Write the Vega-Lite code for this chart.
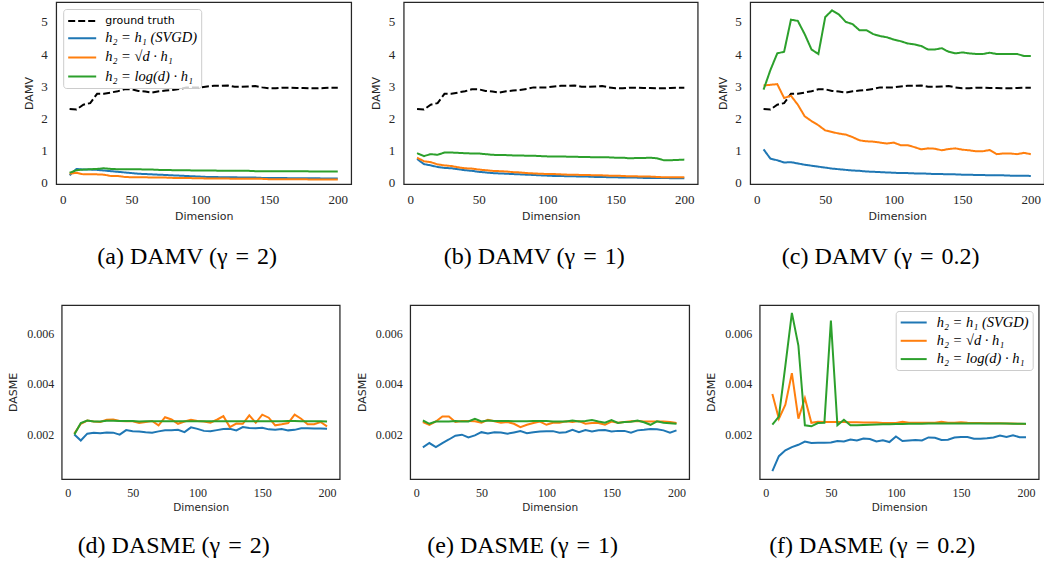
{
"$schema": "https://vega.github.io/schema/vega-lite/v6.json",
"background": "white",
"padding": {"left": 7, "top": 1, "right": 0, "bottom": 0},
"datasets": {
"top": [
{"p":"a","d":5,"gt":2.29,"h1":0.22,"sq":0.27,"lg":0.3},
{"p":"a","d":10,"gt":2.27,"h1":0.42,"sq":0.3,"lg":0.38},
{"p":"a","d":15,"gt":2.42,"h1":0.4,"sq":0.25,"lg":0.4},
{"p":"a","d":20,"gt":2.47,"h1":0.4,"sq":0.25,"lg":0.41},
{"p":"a","d":25,"gt":2.76,"h1":0.39,"sq":0.25,"lg":0.42},
{"p":"a","d":30,"gt":2.76,"h1":0.37,"sq":0.24,"lg":0.44},
{"p":"a","d":35,"gt":2.8,"h1":0.35,"sq":0.2,"lg":0.42},
{"p":"a","d":40,"gt":2.84,"h1":0.33,"sq":0.2,"lg":0.41},
{"p":"a","d":45,"gt":2.9,"h1":0.31,"sq":0.17,"lg":0.41},
{"p":"a","d":50,"gt":2.9,"h1":0.29,"sq":0.16,"lg":0.41},
{"p":"a","d":55,"gt":2.85,"h1":0.27,"sq":0.16,"lg":0.41},
{"p":"a","d":60,"gt":2.83,"h1":0.26,"sq":0.16,"lg":0.4},
{"p":"a","d":65,"gt":2.8,"h1":0.25,"sq":0.15,"lg":0.4},
{"p":"a","d":70,"gt":2.84,"h1":0.24,"sq":0.15,"lg":0.39},
{"p":"a","d":75,"gt":2.86,"h1":0.23,"sq":0.15,"lg":0.39},
{"p":"a","d":80,"gt":2.88,"h1":0.22,"sq":0.14,"lg":0.38},
{"p":"a","d":85,"gt":2.91,"h1":0.21,"sq":0.14,"lg":0.38},
{"p":"a","d":90,"gt":2.96,"h1":0.2,"sq":0.14,"lg":0.38},
{"p":"a","d":95,"gt":2.96,"h1":0.19,"sq":0.13,"lg":0.37},
{"p":"a","d":100,"gt":2.96,"h1":0.18,"sq":0.13,"lg":0.37},
{"p":"a","d":105,"gt":2.99,"h1":0.17,"sq":0.12,"lg":0.37},
{"p":"a","d":110,"gt":3.01,"h1":0.17,"sq":0.12,"lg":0.37},
{"p":"a","d":115,"gt":3.01,"h1":0.16,"sq":0.12,"lg":0.36},
{"p":"a","d":120,"gt":3.02,"h1":0.16,"sq":0.12,"lg":0.36},
{"p":"a","d":125,"gt":2.98,"h1":0.16,"sq":0.11,"lg":0.36},
{"p":"a","d":130,"gt":2.98,"h1":0.15,"sq":0.11,"lg":0.36},
{"p":"a","d":135,"gt":2.99,"h1":0.15,"sq":0.11,"lg":0.36},
{"p":"a","d":140,"gt":3.0,"h1":0.15,"sq":0.11,"lg":0.35},
{"p":"a","d":145,"gt":2.96,"h1":0.14,"sq":0.11,"lg":0.35},
{"p":"a","d":150,"gt":2.93,"h1":0.14,"sq":0.1,"lg":0.35},
{"p":"a","d":155,"gt":2.93,"h1":0.14,"sq":0.1,"lg":0.35},
{"p":"a","d":160,"gt":2.95,"h1":0.14,"sq":0.1,"lg":0.35},
{"p":"a","d":165,"gt":2.95,"h1":0.13,"sq":0.1,"lg":0.35},
{"p":"a","d":170,"gt":2.94,"h1":0.13,"sq":0.1,"lg":0.35},
{"p":"a","d":175,"gt":2.94,"h1":0.13,"sq":0.1,"lg":0.35},
{"p":"a","d":180,"gt":2.93,"h1":0.13,"sq":0.09,"lg":0.34},
{"p":"a","d":185,"gt":2.93,"h1":0.13,"sq":0.09,"lg":0.34},
{"p":"a","d":190,"gt":2.94,"h1":0.12,"sq":0.09,"lg":0.34},
{"p":"a","d":195,"gt":2.95,"h1":0.12,"sq":0.09,"lg":0.34},
{"p":"a","d":200,"gt":2.95,"h1":0.12,"sq":0.09,"lg":0.34},
{"p":"b","d":5,"gt":2.29,"h1":0.73,"sq":0.77,"lg":0.91},
{"p":"b","d":10,"gt":2.27,"h1":0.57,"sq":0.66,"lg":0.82},
{"p":"b","d":15,"gt":2.42,"h1":0.53,"sq":0.63,"lg":0.88},
{"p":"b","d":20,"gt":2.47,"h1":0.48,"sq":0.56,"lg":0.86},
{"p":"b","d":25,"gt":2.76,"h1":0.45,"sq":0.53,"lg":0.93},
{"p":"b","d":30,"gt":2.76,"h1":0.44,"sq":0.51,"lg":0.93},
{"p":"b","d":35,"gt":2.8,"h1":0.41,"sq":0.47,"lg":0.92},
{"p":"b","d":40,"gt":2.84,"h1":0.38,"sq":0.44,"lg":0.91},
{"p":"b","d":45,"gt":2.9,"h1":0.36,"sq":0.43,"lg":0.9},
{"p":"b","d":50,"gt":2.9,"h1":0.33,"sq":0.4,"lg":0.9},
{"p":"b","d":55,"gt":2.85,"h1":0.31,"sq":0.38,"lg":0.88},
{"p":"b","d":60,"gt":2.83,"h1":0.29,"sq":0.36,"lg":0.86},
{"p":"b","d":65,"gt":2.8,"h1":0.28,"sq":0.35,"lg":0.85},
{"p":"b","d":70,"gt":2.84,"h1":0.27,"sq":0.34,"lg":0.85},
{"p":"b","d":75,"gt":2.86,"h1":0.26,"sq":0.32,"lg":0.84},
{"p":"b","d":80,"gt":2.88,"h1":0.25,"sq":0.31,"lg":0.84},
{"p":"b","d":85,"gt":2.91,"h1":0.24,"sq":0.29,"lg":0.83},
{"p":"b","d":90,"gt":2.96,"h1":0.23,"sq":0.28,"lg":0.83},
{"p":"b","d":95,"gt":2.96,"h1":0.22,"sq":0.27,"lg":0.82},
{"p":"b","d":100,"gt":2.96,"h1":0.21,"sq":0.26,"lg":0.81},
{"p":"b","d":105,"gt":2.99,"h1":0.2,"sq":0.26,"lg":0.81},
{"p":"b","d":110,"gt":3.01,"h1":0.2,"sq":0.25,"lg":0.81},
{"p":"b","d":115,"gt":3.01,"h1":0.19,"sq":0.24,"lg":0.8},
{"p":"b","d":120,"gt":3.02,"h1":0.19,"sq":0.24,"lg":0.8},
{"p":"b","d":125,"gt":2.98,"h1":0.18,"sq":0.23,"lg":0.79},
{"p":"b","d":130,"gt":2.98,"h1":0.18,"sq":0.23,"lg":0.79},
{"p":"b","d":135,"gt":2.99,"h1":0.17,"sq":0.22,"lg":0.78},
{"p":"b","d":140,"gt":3.0,"h1":0.17,"sq":0.22,"lg":0.78},
{"p":"b","d":145,"gt":2.96,"h1":0.16,"sq":0.21,"lg":0.78},
{"p":"b","d":150,"gt":2.93,"h1":0.16,"sq":0.21,"lg":0.77},
{"p":"b","d":155,"gt":2.93,"h1":0.15,"sq":0.2,"lg":0.77},
{"p":"b","d":160,"gt":2.95,"h1":0.15,"sq":0.19,"lg":0.75},
{"p":"b","d":165,"gt":2.95,"h1":0.15,"sq":0.19,"lg":0.76},
{"p":"b","d":170,"gt":2.94,"h1":0.14,"sq":0.18,"lg":0.76},
{"p":"b","d":175,"gt":2.94,"h1":0.14,"sq":0.18,"lg":0.77},
{"p":"b","d":180,"gt":2.93,"h1":0.14,"sq":0.17,"lg":0.75},
{"p":"b","d":185,"gt":2.93,"h1":0.14,"sq":0.16,"lg":0.69},
{"p":"b","d":190,"gt":2.94,"h1":0.13,"sq":0.16,"lg":0.69},
{"p":"b","d":195,"gt":2.95,"h1":0.13,"sq":0.16,"lg":0.7},
{"p":"b","d":200,"gt":2.95,"h1":0.13,"sq":0.16,"lg":0.71},
{"p":"c","d":5,"gt":2.29,"h1":1.03,"sq":3.02,"lg":2.89},
{"p":"c","d":10,"gt":2.27,"h1":0.74,"sq":3.04,"lg":3.5},
{"p":"c","d":15,"gt":2.42,"h1":0.69,"sq":3.06,"lg":4.02},
{"p":"c","d":20,"gt":2.47,"h1":0.62,"sq":2.63,"lg":4.07},
{"p":"c","d":25,"gt":2.76,"h1":0.63,"sq":2.7,"lg":5.07},
{"p":"c","d":30,"gt":2.76,"h1":0.59,"sq":2.42,"lg":5.03},
{"p":"c","d":35,"gt":2.8,"h1":0.55,"sq":2.06,"lg":4.62},
{"p":"c","d":40,"gt":2.84,"h1":0.52,"sq":1.91,"lg":4.14},
{"p":"c","d":45,"gt":2.9,"h1":0.49,"sq":1.78,"lg":4.0},
{"p":"c","d":50,"gt":2.9,"h1":0.46,"sq":1.62,"lg":5.15},
{"p":"c","d":55,"gt":2.85,"h1":0.43,"sq":1.57,"lg":5.36},
{"p":"c","d":60,"gt":2.83,"h1":0.41,"sq":1.52,"lg":5.23},
{"p":"c","d":65,"gt":2.8,"h1":0.39,"sq":1.49,"lg":5.0},
{"p":"c","d":70,"gt":2.84,"h1":0.37,"sq":1.41,"lg":4.93},
{"p":"c","d":75,"gt":2.86,"h1":0.36,"sq":1.31,"lg":4.74},
{"p":"c","d":80,"gt":2.88,"h1":0.34,"sq":1.28,"lg":4.74},
{"p":"c","d":85,"gt":2.91,"h1":0.33,"sq":1.27,"lg":4.62},
{"p":"c","d":90,"gt":2.96,"h1":0.32,"sq":1.24,"lg":4.56},
{"p":"c","d":95,"gt":2.96,"h1":0.31,"sq":1.21,"lg":4.52},
{"p":"c","d":100,"gt":2.96,"h1":0.3,"sq":1.24,"lg":4.45},
{"p":"c","d":105,"gt":2.99,"h1":0.29,"sq":1.16,"lg":4.4},
{"p":"c","d":110,"gt":3.01,"h1":0.29,"sq":1.16,"lg":4.33},
{"p":"c","d":115,"gt":3.01,"h1":0.28,"sq":1.1,"lg":4.3},
{"p":"c","d":120,"gt":3.02,"h1":0.28,"sq":1.03,"lg":4.25},
{"p":"c","d":125,"gt":2.98,"h1":0.27,"sq":1.06,"lg":4.14},
{"p":"c","d":130,"gt":2.98,"h1":0.26,"sq":1.05,"lg":4.14},
{"p":"c","d":135,"gt":2.99,"h1":0.26,"sq":1.0,"lg":4.18},
{"p":"c","d":140,"gt":3.0,"h1":0.25,"sq":1.04,"lg":4.07},
{"p":"c","d":145,"gt":2.96,"h1":0.25,"sq":1.06,"lg":4.02},
{"p":"c","d":150,"gt":2.93,"h1":0.24,"sq":1.02,"lg":4.05},
{"p":"c","d":155,"gt":2.93,"h1":0.24,"sq":1.0,"lg":4.02},
{"p":"c","d":160,"gt":2.95,"h1":0.23,"sq":0.97,"lg":4.0},
{"p":"c","d":165,"gt":2.95,"h1":0.23,"sq":0.97,"lg":4.0},
{"p":"c","d":170,"gt":2.94,"h1":0.22,"sq":1.01,"lg":4.04},
{"p":"c","d":175,"gt":2.94,"h1":0.22,"sq":0.88,"lg":4.0},
{"p":"c","d":180,"gt":2.93,"h1":0.22,"sq":0.9,"lg":4.0},
{"p":"c","d":185,"gt":2.93,"h1":0.21,"sq":0.9,"lg":4.0},
{"p":"c","d":190,"gt":2.94,"h1":0.21,"sq":0.88,"lg":4.0},
{"p":"c","d":195,"gt":2.95,"h1":0.21,"sq":0.92,"lg":3.94},
{"p":"c","d":200,"gt":2.95,"h1":0.2,"sq":0.88,"lg":3.94}
],
"bot": [
{"p":"d","d":5,"h1":0.002,"sq":0.00203,"lg":0.002},
{"p":"d","d":10,"h1":0.00176,"sq":0.00242,"lg":0.00245},
{"p":"d","d":15,"h1":0.00203,"sq":0.00255,"lg":0.00255},
{"p":"d","d":20,"h1":0.00207,"sq":0.00251,"lg":0.00251},
{"p":"d","d":25,"h1":0.00205,"sq":0.00249,"lg":0.00251},
{"p":"d","d":30,"h1":0.00208,"sq":0.00258,"lg":0.00254},
{"p":"d","d":35,"h1":0.00207,"sq":0.00259,"lg":0.00254},
{"p":"d","d":40,"h1":0.00199,"sq":0.00253,"lg":0.00253},
{"p":"d","d":45,"h1":0.00217,"sq":0.00252,"lg":0.00253},
{"p":"d","d":50,"h1":0.00213,"sq":0.00252,"lg":0.00253},
{"p":"d","d":55,"h1":0.00212,"sq":0.00245,"lg":0.00251},
{"p":"d","d":60,"h1":0.00209,"sq":0.00249,"lg":0.00252},
{"p":"d","d":65,"h1":0.00207,"sq":0.00253,"lg":0.00252},
{"p":"d","d":70,"h1":0.00212,"sq":0.00236,"lg":0.00252},
{"p":"d","d":75,"h1":0.00216,"sq":0.00268,"lg":0.00252},
{"p":"d","d":80,"h1":0.00216,"sq":0.00259,"lg":0.00252},
{"p":"d","d":85,"h1":0.00218,"sq":0.00242,"lg":0.00252},
{"p":"d","d":90,"h1":0.00209,"sq":0.00251,"lg":0.00252},
{"p":"d","d":95,"h1":0.00228,"sq":0.00258,"lg":0.00252},
{"p":"d","d":100,"h1":0.00222,"sq":0.00253,"lg":0.00252},
{"p":"d","d":105,"h1":0.00214,"sq":0.00251,"lg":0.00252},
{"p":"d","d":110,"h1":0.00213,"sq":0.00246,"lg":0.00252},
{"p":"d","d":115,"h1":0.00217,"sq":0.00258,"lg":0.00252},
{"p":"d","d":120,"h1":0.00221,"sq":0.00272,"lg":0.00252},
{"p":"d","d":125,"h1":0.00222,"sq":0.00229,"lg":0.00252},
{"p":"d","d":130,"h1":0.00216,"sq":0.00243,"lg":0.00252},
{"p":"d","d":135,"h1":0.00229,"sq":0.00242,"lg":0.00252},
{"p":"d","d":140,"h1":0.00225,"sq":0.00275,"lg":0.00252},
{"p":"d","d":145,"h1":0.00224,"sq":0.00246,"lg":0.00252},
{"p":"d","d":150,"h1":0.00226,"sq":0.00278,"lg":0.00252},
{"p":"d","d":155,"h1":0.0022,"sq":0.00266,"lg":0.00252},
{"p":"d","d":160,"h1":0.00218,"sq":0.00236,"lg":0.00252},
{"p":"d","d":165,"h1":0.00221,"sq":0.0024,"lg":0.00252},
{"p":"d","d":170,"h1":0.00216,"sq":0.00245,"lg":0.00253},
{"p":"d","d":175,"h1":0.00218,"sq":0.00278,"lg":0.00253},
{"p":"d","d":180,"h1":0.00224,"sq":0.00262,"lg":0.00252},
{"p":"d","d":185,"h1":0.00224,"sq":0.0024,"lg":0.00252},
{"p":"d","d":190,"h1":0.00223,"sq":0.0024,"lg":0.00252},
{"p":"d","d":195,"h1":0.00223,"sq":0.00249,"lg":0.00252},
{"p":"d","d":200,"h1":0.00222,"sq":0.00232,"lg":0.00251},
{"p":"e","d":5,"h1":0.00149,"sq":0.00249,"lg":0.00255},
{"p":"e","d":10,"h1":0.00166,"sq":0.00238,"lg":0.00242},
{"p":"e","d":15,"h1":0.0015,"sq":0.00251,"lg":0.00251},
{"p":"e","d":20,"h1":0.00166,"sq":0.00271,"lg":0.00251},
{"p":"e","d":25,"h1":0.0018,"sq":0.00271,"lg":0.00251},
{"p":"e","d":30,"h1":0.00195,"sq":0.00249,"lg":0.00253},
{"p":"e","d":35,"h1":0.00199,"sq":0.00253,"lg":0.00251},
{"p":"e","d":40,"h1":0.00188,"sq":0.00253,"lg":0.00251},
{"p":"e","d":45,"h1":0.00196,"sq":0.00252,"lg":0.00262},
{"p":"e","d":50,"h1":0.00209,"sq":0.00246,"lg":0.00251},
{"p":"e","d":55,"h1":0.00204,"sq":0.00258,"lg":0.00255},
{"p":"e","d":60,"h1":0.00209,"sq":0.00252,"lg":0.00253},
{"p":"e","d":65,"h1":0.00208,"sq":0.00246,"lg":0.00253},
{"p":"e","d":70,"h1":0.00203,"sq":0.00249,"lg":0.00253},
{"p":"e","d":75,"h1":0.00208,"sq":0.00242,"lg":0.00252},
{"p":"e","d":80,"h1":0.00213,"sq":0.00229,"lg":0.00252},
{"p":"e","d":85,"h1":0.00205,"sq":0.00238,"lg":0.00252},
{"p":"e","d":90,"h1":0.00209,"sq":0.00245,"lg":0.00253},
{"p":"e","d":95,"h1":0.00212,"sq":0.00251,"lg":0.00253},
{"p":"e","d":100,"h1":0.00213,"sq":0.00238,"lg":0.00253},
{"p":"e","d":105,"h1":0.00213,"sq":0.00246,"lg":0.00251},
{"p":"e","d":110,"h1":0.00207,"sq":0.00246,"lg":0.00251},
{"p":"e","d":115,"h1":0.00209,"sq":0.00252,"lg":0.00251},
{"p":"e","d":120,"h1":0.00218,"sq":0.00249,"lg":0.00255},
{"p":"e","d":125,"h1":0.00209,"sq":0.00253,"lg":0.00251},
{"p":"e","d":130,"h1":0.00217,"sq":0.00242,"lg":0.00253},
{"p":"e","d":135,"h1":0.00212,"sq":0.00245,"lg":0.00257},
{"p":"e","d":140,"h1":0.00216,"sq":0.00245,"lg":0.00251},
{"p":"e","d":145,"h1":0.00217,"sq":0.00238,"lg":0.00246},
{"p":"e","d":150,"h1":0.00212,"sq":0.00251,"lg":0.00257},
{"p":"e","d":155,"h1":0.00214,"sq":0.00246,"lg":0.00245},
{"p":"e","d":160,"h1":0.00214,"sq":0.00249,"lg":0.00249},
{"p":"e","d":165,"h1":0.00207,"sq":0.00252,"lg":0.0025},
{"p":"e","d":170,"h1":0.00216,"sq":0.00253,"lg":0.00255},
{"p":"e","d":175,"h1":0.00218,"sq":0.00251,"lg":0.00248},
{"p":"e","d":180,"h1":0.00221,"sq":0.00251,"lg":0.00238},
{"p":"e","d":185,"h1":0.0022,"sq":0.00251,"lg":0.00252},
{"p":"e","d":190,"h1":0.00216,"sq":0.00251,"lg":0.00246},
{"p":"e","d":195,"h1":0.00207,"sq":0.00249,"lg":0.00244},
{"p":"e","d":200,"h1":0.00216,"sq":0.00245,"lg":0.00242},
{"p":"f","d":5,"h1":0.00055,"sq":0.0036,"lg":0.00239},
{"p":"f","d":10,"h1":0.00114,"sq":0.00262,"lg":0.0027},
{"p":"f","d":15,"h1":0.00137,"sq":0.00317,"lg":0.00472},
{"p":"f","d":20,"h1":0.0015,"sq":0.00442,"lg":0.0068},
{"p":"f","d":25,"h1":0.00159,"sq":0.00262,"lg":0.00551},
{"p":"f","d":30,"h1":0.00172,"sq":0.00343,"lg":0.00236},
{"p":"f","d":35,"h1":0.00166,"sq":0.00246,"lg":0.00232},
{"p":"f","d":40,"h1":0.00167,"sq":0.0025,"lg":0.00245},
{"p":"f","d":45,"h1":0.00167,"sq":0.00249,"lg":0.00246},
{"p":"f","d":50,"h1":0.00168,"sq":0.00249,"lg":0.0065},
{"p":"f","d":55,"h1":0.00174,"sq":0.00249,"lg":0.00236},
{"p":"f","d":60,"h1":0.00172,"sq":0.00249,"lg":0.00258},
{"p":"f","d":65,"h1":0.0018,"sq":0.00248,"lg":0.00236},
{"p":"f","d":70,"h1":0.00176,"sq":0.00248,"lg":0.00236},
{"p":"f","d":75,"h1":0.00184,"sq":0.00247,"lg":0.00237},
{"p":"f","d":80,"h1":0.00182,"sq":0.00247,"lg":0.00238},
{"p":"f","d":85,"h1":0.00172,"sq":0.00247,"lg":0.00239},
{"p":"f","d":90,"h1":0.00177,"sq":0.00245,"lg":0.0024},
{"p":"f","d":95,"h1":0.0017,"sq":0.00245,"lg":0.0024},
{"p":"f","d":100,"h1":0.00192,"sq":0.00245,"lg":0.00241},
{"p":"f","d":105,"h1":0.00174,"sq":0.0025,"lg":0.00241},
{"p":"f","d":110,"h1":0.00176,"sq":0.00246,"lg":0.00242},
{"p":"f","d":115,"h1":0.00178,"sq":0.00246,"lg":0.00242},
{"p":"f","d":120,"h1":0.00176,"sq":0.00246,"lg":0.00242},
{"p":"f","d":125,"h1":0.00188,"sq":0.00246,"lg":0.00243},
{"p":"f","d":130,"h1":0.00187,"sq":0.00246,"lg":0.00243},
{"p":"f","d":135,"h1":0.00178,"sq":0.0025,"lg":0.00243},
{"p":"f","d":140,"h1":0.00179,"sq":0.00246,"lg":0.00243},
{"p":"f","d":145,"h1":0.00188,"sq":0.00246,"lg":0.00243},
{"p":"f","d":150,"h1":0.0019,"sq":0.00248,"lg":0.00243},
{"p":"f","d":155,"h1":0.0019,"sq":0.00246,"lg":0.00243},
{"p":"f","d":160,"h1":0.00183,"sq":0.00245,"lg":0.00243},
{"p":"f","d":165,"h1":0.00183,"sq":0.00245,"lg":0.00243},
{"p":"f","d":170,"h1":0.00185,"sq":0.00244,"lg":0.00243},
{"p":"f","d":175,"h1":0.00188,"sq":0.00244,"lg":0.00243},
{"p":"f","d":180,"h1":0.00196,"sq":0.00244,"lg":0.00243},
{"p":"f","d":185,"h1":0.0019,"sq":0.00243,"lg":0.00243},
{"p":"f","d":190,"h1":0.00197,"sq":0.00243,"lg":0.00242},
{"p":"f","d":195,"h1":0.00189,"sq":0.00242,"lg":0.00242},
{"p":"f","d":200,"h1":0.00189,"sq":0.00241,"lg":0.00242}
]
},
"vconcat": [
{
"hconcat": [
{
"width": 295, "height": 182,
"data": {"name": "top"},
"transform": [{"filter": "datum.p == 'a'"}, {"fold": ["gt", "h1", "sq", "lg"], "as": ["m", "v"]}],
"mark": {"type": "line", "strokeWidth": 2, "clip": true},
"encoding": {
"x": {"field": "d", "type": "quantitative", "scale": {"domain": [-4.75, 209.75], "nice": false, "zero": false}, "axis": {"values": [0, 50, 100, 150, 200], "title": "Dimension"}},
"y": {"field": "v", "type": "quantitative", "scale": {"domain": [-0.05, 5.62], "nice": false, "zero": false}, "axis": {"values": [0, 1, 2, 3, 4, 5], "title": "DAMV", "minExtent": 17, "maxExtent": 17, "titlePadding": 5}},
"color": {"field": "m", "type": "nominal", "scale": {"domain": ["gt", "h1", "sq", "lg"], "range": ["#000000", "#1f77b4", "#ff7f0e", "#2ca02c"]},
"legend": {"title": null, "orient": "top-left", "offset": 7, "padding": 4, "fillColor": "rgba(255,255,255,0.8)", "strokeColor": "#cccccc", "cornerRadius": 3, "symbolType": "M-1,0H3", "symbolSize": 196, "symbolStrokeWidth": 2, "labelOffset": 22, "rowPadding": 4.2, "labelFontSize": 14.5,
"labelExpr": "datum.label == 'gt' ? 'ground truth' : datum.label == 'h1' ? 'h₂ = h₁ (SVGD)' : datum.label == 'sq' ? 'h₂ = √d · h₁' : 'h₂ = log(d) · h₁'",
"encode": {"labels": {"update": {"font": {"signal": "datum.value == 'gt' ? 'DejaVu Sans' : 'Liberation Serif'"}, "fontStyle": {"signal": "datum.value == 'gt' ? 'normal' : 'italic'"}, "fontSize": {"signal": "datum.value == 'gt' ? 11 : 14.5"}}}}}},
"strokeDash": {"field": "m", "type": "nominal", "scale": {"domain": ["gt", "h1", "sq", "lg"], "range": [[7, 3], [1, 0], [1, 0], [1, 0]]},
"legend": {"title": null, "orient": "top-left", "offset": 7, "padding": 4, "fillColor": "rgba(255,255,255,0.8)", "strokeColor": "#cccccc", "cornerRadius": 3, "symbolType": "M-1,0H3", "symbolSize": 196, "symbolStrokeWidth": 2, "labelOffset": 22, "rowPadding": 4.2, "labelFontSize": 14.5,
"labelExpr": "datum.label == 'gt' ? 'ground truth' : datum.label == 'h1' ? 'h₂ = h₁ (SVGD)' : datum.label == 'sq' ? 'h₂ = √d · h₁' : 'h₂ = log(d) · h₁'",
"encode": {"labels": {"update": {"font": {"signal": "datum.value == 'gt' ? 'DejaVu Sans' : 'Liberation Serif'"}, "fontStyle": {"signal": "datum.value == 'gt' ? 'normal' : 'italic'"}, "fontSize": {"signal": "datum.value == 'gt' ? 11 : 14.5"}}}}}}
},
"title": {"text": "(a) DAMV (γ\u2004=\u20042)", "offset": 24}
},
{
"width": 294, "height": 182,
"data": {"name": "top"},
"transform": [{"filter": "datum.p == 'b'"}, {"fold": ["gt", "h1", "sq", "lg"], "as": ["m", "v"]}],
"mark": {"type": "line", "strokeWidth": 2, "clip": true},
"encoding": {
"x": {"field": "d", "type": "quantitative", "scale": {"domain": [-4.75, 209.75], "nice": false, "zero": false}, "axis": {"values": [0, 50, 100, 150, 200], "title": "Dimension"}},
"y": {"field": "v", "type": "quantitative", "scale": {"domain": [-0.05, 5.62], "nice": false, "zero": false}, "axis": {"values": [0, 1, 2, 3, 4, 5], "title": "DAMV", "minExtent": 17, "maxExtent": 17, "titlePadding": 5}},
"color": {"field": "m", "type": "nominal", "scale": {"domain": ["gt", "h1", "sq", "lg"], "range": ["#000000", "#1f77b4", "#ff7f0e", "#2ca02c"]}, "legend": null},
"strokeDash": {"field": "m", "type": "nominal", "scale": {"domain": ["gt", "h1", "sq", "lg"], "range": [[7, 3], [1, 0], [1, 0], [1, 0]]}, "legend": null}
},
"title": {"text": "(b) DAMV (γ\u2004=\u20041)", "offset": 24}
},
{
"width": 294, "height": 182,
"data": {"name": "top"},
"transform": [{"filter": "datum.p == 'c'"}, {"fold": ["gt", "h1", "sq", "lg"], "as": ["m", "v"]}],
"mark": {"type": "line", "strokeWidth": 2, "clip": true},
"encoding": {
"x": {"field": "d", "type": "quantitative", "scale": {"domain": [-4.75, 209.75], "nice": false, "zero": false}, "axis": {"values": [0, 50, 100, 150, 200], "title": "Dimension"}},
"y": {"field": "v", "type": "quantitative", "scale": {"domain": [-0.05, 5.62], "nice": false, "zero": false}, "axis": {"values": [0, 1, 2, 3, 4, 5], "title": "DAMV", "minExtent": 17, "maxExtent": 17, "titlePadding": 5}},
"color": {"field": "m", "type": "nominal", "scale": {"domain": ["gt", "h1", "sq", "lg"], "range": ["#000000", "#1f77b4", "#ff7f0e", "#2ca02c"]}, "legend": null},
"strokeDash": {"field": "m", "type": "nominal", "scale": {"domain": ["gt", "h1", "sq", "lg"], "range": [[7, 3], [1, 0], [1, 0], [1, 0]]}, "legend": null}
},
"title": {"text": "(c) DAMV (γ\u2004=\u20040.2)", "offset": 24}
}
],
"spacing": 17.5,
"resolve": {"scale": {"x": "independent", "y": "independent", "color": "independent", "strokeDash": "independent"}}
},
{
"hconcat": [
{
"width": 278, "height": 174,
"data": {"name": "bot"},
"transform": [{"filter": "datum.p == 'd'"}, {"fold": ["h1", "sq", "lg"], "as": ["m", "v"]}],
"mark": {"type": "line", "strokeWidth": 2, "clip": true},
"encoding": {
"x": {"field": "d", "type": "quantitative", "scale": {"domain": [-4.75, 209.75], "nice": false, "zero": false}, "axis": {"values": [0, 50, 100, 150, 200], "title": "Dimension", "labelFontSize": 12, "labelPadding": 8, "titleFontSize": 10.5}},
"y": {"field": "v", "type": "quantitative", "scale": {"domain": [0.00024, 0.00711], "nice": false, "zero": false}, "axis": {"values": [0.002, 0.004, 0.006], "format": ".3f", "title": "DASME", "labelFontSize": 12, "labelPadding": 8, "minExtent": 37, "maxExtent": 37, "titlePadding": 6}},
"color": {"field": "m", "type": "nominal", "scale": {"domain": ["h1", "sq", "lg"], "range": ["#1f77b4", "#ff7f0e", "#2ca02c"]}, "legend": null}
},
"title": {"text": "(d) DASME (γ\u2004=\u20042)", "offset": 21}
},
{
"width": 279, "height": 174,
"data": {"name": "bot"},
"transform": [{"filter": "datum.p == 'e'"}, {"fold": ["h1", "sq", "lg"], "as": ["m", "v"]}],
"mark": {"type": "line", "strokeWidth": 2, "clip": true},
"encoding": {
"x": {"field": "d", "type": "quantitative", "scale": {"domain": [-4.75, 209.75], "nice": false, "zero": false}, "axis": {"values": [0, 50, 100, 150, 200], "title": "Dimension", "labelFontSize": 12, "labelPadding": 8, "titleFontSize": 10.5}},
"y": {"field": "v", "type": "quantitative", "scale": {"domain": [0.00024, 0.00711], "nice": false, "zero": false}, "axis": {"values": [0.002, 0.004, 0.006], "format": ".3f", "title": "DASME", "labelFontSize": 12, "labelPadding": 8, "minExtent": 37, "maxExtent": 37, "titlePadding": 6}},
"color": {"field": "m", "type": "nominal", "scale": {"domain": ["h1", "sq", "lg"], "range": ["#1f77b4", "#ff7f0e", "#2ca02c"]}, "legend": null}
},
"title": {"text": "(e) DASME (γ\u2004=\u20041)", "offset": 21}
},
{
"width": 279, "height": 174,
"data": {"name": "bot"},
"transform": [{"filter": "datum.p == 'f'"}, {"fold": ["h1", "sq", "lg"], "as": ["m", "v"]}],
"mark": {"type": "line", "strokeWidth": 2, "clip": true},
"encoding": {
"x": {"field": "d", "type": "quantitative", "scale": {"domain": [-4.75, 209.75], "nice": false, "zero": false}, "axis": {"values": [0, 50, 100, 150, 200], "title": "Dimension", "labelFontSize": 12, "labelPadding": 8, "titleFontSize": 10.5}},
"y": {"field": "v", "type": "quantitative", "scale": {"domain": [0.00024, 0.00711], "nice": false, "zero": false}, "axis": {"values": [0.002, 0.004, 0.006], "format": ".3f", "title": "DASME", "labelFontSize": 12, "labelPadding": 8, "minExtent": 37, "maxExtent": 37, "titlePadding": 6}},
"color": {"field": "m", "type": "nominal", "scale": {"domain": ["h1", "sq", "lg"], "range": ["#1f77b4", "#ff7f0e", "#2ca02c"]},
"legend": {"title": null, "orient": "top-right", "offset": 6, "padding": 4, "fillColor": "rgba(255,255,255,0.8)", "strokeColor": "#cccccc", "cornerRadius": 3, "symbolType": "M-1,0H3", "symbolSize": 169, "symbolStrokeWidth": 2, "labelOffset": 22, "rowPadding": 3.3,
"labelExpr": "datum.label == 'h1' ? 'h₂ = h₁ (SVGD)' : datum.label == 'sq' ? 'h₂ = √d · h₁' : 'h₂ = log(d) · h₁'",
"labelFont": "Liberation Serif", "labelFontStyle": "italic", "labelFontSize": 14.5}}
},
"title": {"text": "(f) DASME (γ\u2004=\u20040.2)", "offset": 21}
}
],
"spacing": 14.5,
"resolve": {"scale": {"x": "independent", "y": "independent", "color": "independent"}}
}
],
"spacing": 34,
"center": true,
"resolve": {"scale": {"x": "independent", "y": "independent", "color": "independent", "strokeDash": "independent"}},
"config": {
"view": {"stroke": "#262626", "strokeWidth": 1.25},
"axis": {"grid": false, "ticks": false, "tickSize": 0, "domain": false, "labelFont": "Liberation Serif", "labelFontSize": 13, "labelColor": "#262626", "labelPadding": 9, "labelFlush": false, "labelOverlap": false, "titleFont": "DejaVu Sans", "titleFontSize": 11, "titleFontWeight": "normal", "titleColor": "#262626", "titlePadding": 4},
"title": {"orient": "bottom", "font": "Liberation Serif", "fontSize": 24, "fontWeight": "normal", "color": "#000000", "anchor": "middle", "frame": "bounds"}
}
}
